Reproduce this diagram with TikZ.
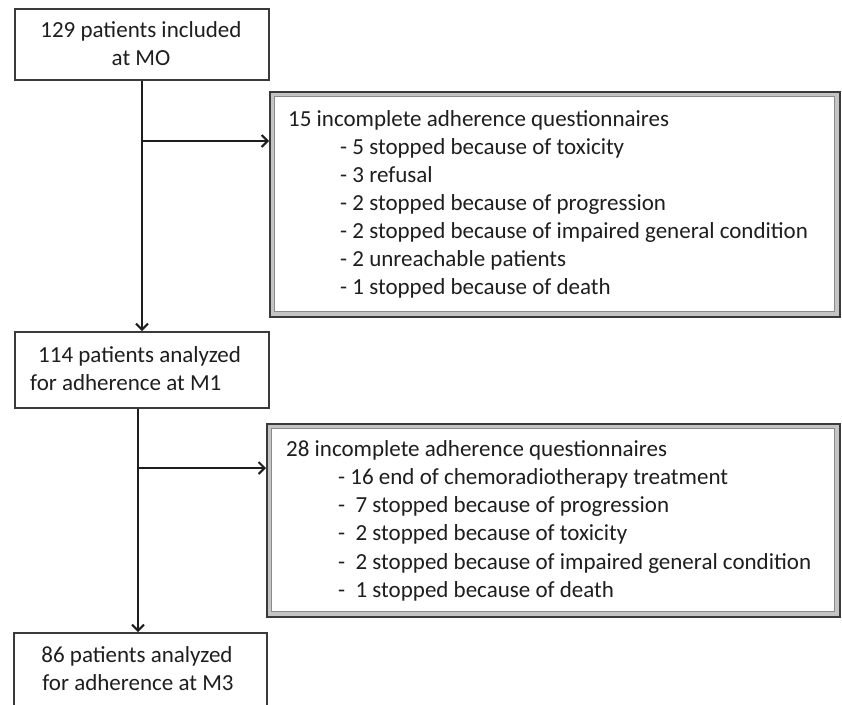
\documentclass[tikz,border=0pt]{standalone}
\usepackage{fontspec}
\setmainfont{Carlito}
\usetikzlibrary{arrows.meta,calc}
\definecolor{ink}{HTML}{1E1E1E}
\definecolor{boxline}{HTML}{3A3A3A}
\definecolor{band}{HTML}{C4C4C4}
\definecolor{innerline}{HTML}{8A8A8A}
\tikzset{
  mainbox/.style={draw=boxline, line width=2pt, fill=white, anchor=north west, inner sep=0pt},
  outerframe/.style={draw=boxline, line width=1.6pt, fill=band, anchor=north west, inner sep=0pt},
  innerframe/.style={draw=innerline, line width=1.2pt, fill=white, inner sep=0pt},
  txt/.style={anchor=base west, inner sep=0pt, text=ink, font=\fontsize{23}{28}\selectfont},
  ctxt/.style={anchor=base, inner sep=0pt, text=ink, font=\fontsize{23}{28}\selectfont},
  flow/.style={draw=ink, line width=2pt, -{Straight Barb[length=6pt,width=12pt,line width=2pt]}},
}
\begin{document}
\begin{tikzpicture}[x=1pt,y=-1pt]
\useasboundingbox (0,0) rectangle (842,704);
\clip (0,0) rectangle (842,704);
\fill[white] (0,0) rectangle (842,704);

% left boxes
\node[mainbox, minimum width=254pt, minimum height=71pt] (b1) at (14,8) {};
\node[mainbox, minimum width=254pt, minimum height=76pt] (b2) at (14,331) {};
\node[mainbox, minimum width=253pt, minimum height=90pt] (b3) at (13,632) {};

\node[ctxt] (t11) at (141,37) {129 patients included};
\node[ctxt] (t12) at (141,65) {at MO};
\node[txt] (t21) at (38,362) {114 patients analyzed};
\node[txt] (t22) at (30,390) {for adherence at M1};
\node[ctxt] (t31) at (137,662) {86 patients analyzed};
\node[ctxt] (t32) at (138,690) {for adherence at M3};

% right boxes (double frame)
\node[outerframe, minimum width=570pt, minimum height=225pt] (r1) at (269,91) {};
\node[innerframe, minimum width=560pt, minimum height=215pt] (r1i) at (r1.center) {};
\node[outerframe, minimum width=573pt, minimum height=193pt] (r2) at (266,423) {};
\node[innerframe, minimum width=563pt, minimum height=183pt] (r2i) at (r2.center) {};

\node[txt] (h1) at (288,126) {15 incomplete adherence questionnaires};
\foreach \k/\s in {1/{- 5 stopped because of toxicity},
                   2/{- 3 refusal},
                   3/{- 2 stopped because of progression},
                   4/{- 2 stopped because of impaired general condition},
                   5/{- 2 unreachable patients},
                   6/{- 1 stopped because of death}}
  \node[txt] (a\k) at (340,{126+28*\k}) {\s};

\node[txt] (h2) at (286,456) {28 incomplete adherence questionnaires};
\foreach \k/\s in {1/{- 16 end of chemoradiotherapy treatment},
                   2/{-\ \ 7 stopped because of progression},
                   3/{-\ \ 2 stopped because of toxicity},
                   4/{-\ \ 2 stopped because of impaired general condition},
                   5/{-\ \ 1 stopped because of death}}
  \node[txt] (c\k) at (338,{456+28.3*\k}) {\s};

% connectors
\coordinate (v1) at (142,141);
\coordinate (v2) at (138,468);
\draw[flow] (b1.south -| v1) -- (b2.north -| v1);
\draw[flow] (v1) -- (v1 -| r1.west);
\draw[flow] (b2.south -| v2) -- (b3.north -| v2);
\draw[flow] (v2) -- (v2 -| r2.west);
\end{tikzpicture}
\end{document}
